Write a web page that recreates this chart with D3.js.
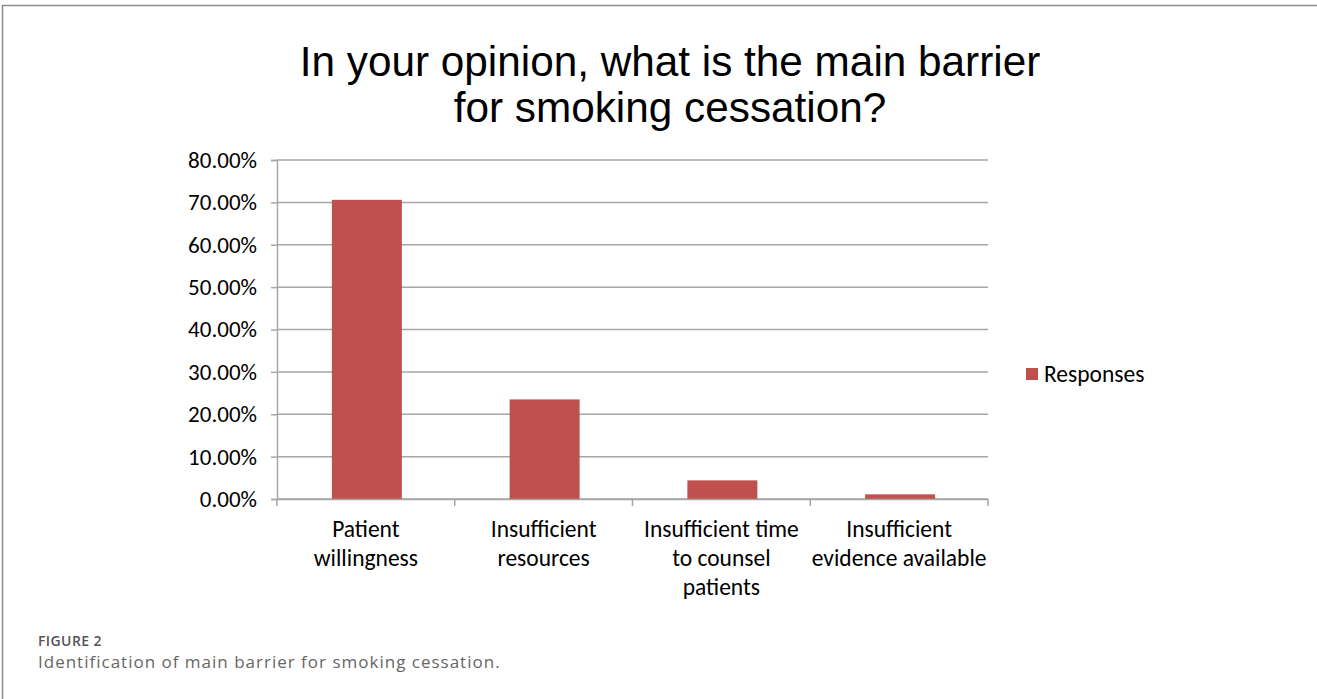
<!DOCTYPE html>
<html>
<head>
<meta charset="utf-8">
<script src="https://cdn.jsdelivr.net/npm/d3@7"></script>
<style>
  html, body { margin: 0; padding: 0; background: #fff; }
  svg { display: block; }
</style>
</head>
<body>
<svg id="chart" width="1317" height="699"></svg>
<script>
// Survey responses: main barrier for smoking cessation
const categories = [
  "Patient willingness",
  "Insufficient resources",
  "Insufficient time to counsel patients",
  "Insufficient evidence available"
];
const categoryLines = [
  ["Patient", "willingness"],
  ["Insufficient", "resources"],
  ["Insufficient time", "to counsel", "patients"],
  ["Insufficient", "evidence available"]
];
const responses = [0.706, 0.235, 0.044, 0.011];
const yTicks = [0, 0.1, 0.2, 0.3, 0.4, 0.5, 0.6, 0.7, 0.8];
const titleLines = ["In your opinion, what is the main barrier", "for smoking cessation?"];
const seriesName = "Responses";
const figureLabel = "FIGURE 2";
const captionText = "Identification of main barrier for smoking cessation.";

const svg = d3.select("#chart");
const W = 1317, H = 699;
const plot = { left: 277, right: 988, top: 160, bottom: 499 };
const barColor = "#C0504D";
const gridColor = "#A6A6A6";
const calibri = "Carlito, Calibri, Lato, 'Open Sans', sans-serif";

// Panel frame (top and left edges)
svg.append("path")
  .attr("d", `M2.5,${H} L2.5,5.5 L${W},5.5`)
  .attr("fill", "none")
  .attr("stroke", "#8c8c8c")
  .attr("stroke-width", 1.5);

// Title
const title = svg.append("text")
  .attr("text-anchor", "middle")
  .attr("font-family", "'Liberation Sans', Arial, sans-serif")
  .attr("font-size", 42.3)
  .attr("fill", "#000");
titleLines.forEach((t, i) => {
  title.append("tspan").attr("x", 670).attr("y", 76 + i * 46).text(t);
});

const x = d3.scaleBand().domain(categories).range([plot.left, plot.right]).paddingInner(0).paddingOuter(0);
const y = d3.scaleLinear().domain([0, 0.8]).range([plot.bottom, plot.top]);

// Gridlines
svg.append("g")
  .selectAll("line")
  .data(yTicks)
  .join("line")
  .attr("x1", plot.left)
  .attr("x2", plot.right)
  .attr("y1", d => y(d))
  .attr("y2", d => y(d))
  .attr("stroke", gridColor)
  .attr("stroke-width", 1.5);

// Y axis
const yAxis = svg.append("g")
  .attr("transform", `translate(${plot.left},0)`)
  .call(d3.axisLeft(y).tickValues(yTicks).tickFormat(d3.format(".2%")).tickSize(6).tickPadding(14));
yAxis.select(".domain").attr("stroke", gridColor).attr("stroke-width", 1.5);
yAxis.selectAll(".tick line").attr("stroke", gridColor).attr("stroke-width", 1.5);
yAxis.selectAll(".tick text")
  .attr("font-family", calibri)
  .attr("font-size", 23)
  .attr("fill", "#000");

// Bars
const barWidth = 70;
svg.append("g")
  .selectAll("rect")
  .data(categories)
  .join("rect")
  .attr("x", d => x(d) + x.bandwidth() / 2 - barWidth / 2 + 1)
  .attr("width", barWidth)
  .attr("y", (d, i) => y(responses[i]))
  .attr("height", (d, i) => y(0) - y(responses[i]))
  .attr("fill", barColor);

// X axis
const xAxis = svg.append("g")
  .attr("transform", `translate(0,${plot.bottom})`)
  .call(d3.axisBottom(x).tickSize(0).tickFormat(""));
xAxis.select(".domain").attr("stroke", gridColor).attr("stroke-width", 1.5);
const boundaries = categories.map(c => x(c)).concat([plot.right]);
xAxis.selectAll(".boundary")
  .data(boundaries)
  .join("line")
  .attr("class", "boundary")
  .attr("x1", d => d).attr("x2", d => d)
  .attr("y1", 0).attr("y2", 7)
  .attr("stroke", gridColor)
  .attr("stroke-width", 1.5);

// Category labels
const labels = svg.append("g")
  .attr("font-family", calibri)
  .attr("font-size", 23.5)
  .attr("fill", "#000")
  .attr("text-anchor", "middle");
categories.forEach((c, i) => {
  const t = labels.append("text");
  categoryLines[i].forEach((line, j) => {
    t.append("tspan")
      .attr("x", x(c) + x.bandwidth() / 2)
      .attr("y", 537 + j * 29)
      .text(line);
  });
});

// Legend
const legend = svg.append("g").attr("transform", "translate(1026,368)");
legend.append("rect").attr("width", 12).attr("height", 12).attr("fill", barColor);
legend.append("text")
  .attr("x", 18).attr("y", 6)
  .attr("dy", "0.35em")
  .attr("font-family", calibri)
  .attr("font-size", 23.5)
  .attr("fill", "#000")
  .text(seriesName);

// Figure caption
svg.append("text")
  .attr("x", 38).attr("y", 646)
  .attr("font-family", "'Open Sans', 'Noto Sans', sans-serif")
  .attr("font-size", 14)
  .attr("font-weight", 600)
  .attr("letter-spacing", 0.4)
  .attr("fill", "#555")
  .text(figureLabel);
svg.append("text")
  .attr("x", 38).attr("y", 668)
  .attr("font-family", "'Open Sans', 'Noto Sans', sans-serif")
  .attr("font-size", 17)
  .attr("letter-spacing", 1)
  .attr("fill", "#666")
  .text(captionText);
</script>
</body>
</html>
